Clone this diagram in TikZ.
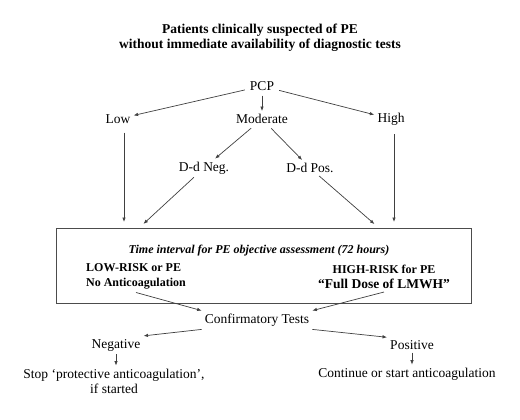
\documentclass[tikz,border=0pt]{standalone}
\usepackage{fontspec}
\setmainfont{Liberation Serif}
\usetikzlibrary{arrows.meta}

\tikzset{
    txt/.style={inner sep=3pt, font=\fontsize{13.5}{15}\selectfont},
    flow/.style={every edge/.append style={draw=black!75, line width=0.7pt, -{Latex[length=4.5pt,width=3.5pt]}}},
}

\begin{document}
\begin{tikzpicture}[x=1pt, y=-1pt]
    \useasboundingbox[fill=white] (0,0) rectangle (520,420);

    \node [align=center, font=\bfseries\fontsize{13.5}{15}\selectfont] (title) at (260,37.5)
        {Patients clinically suspected of PE\\without immediate availability of diagnostic tests};

    \node [txt] (pcp) at (262,86) {PCP};
    \node [txt] (low) at (118,119) {Low};
    \node [txt] (mod) at (262,119) {Moderate};
    \node [txt] (high) at (391,119) {High};
    \node [txt] (ddneg) at (204,168) {D-d Neg.};
    \node [txt] (ddpos) at (310,168) {D-d Pos.};

    % assessment window
    \node [draw=black!70, line width=0.8pt, minimum width=415pt, minimum height=75pt] (box) at (263.5,265.5) {};
    \node [font=\bfseries\itshape\fontsize{12}{14}\selectfont] (window) at (259,251)
        {Time interval for PE objective assessment (72 hours)};
    \node [align=left, inner sep=3pt, font=\bfseries\fontsize{12}{15}\selectfont] (lowrisk) at (136,276.5)
        {LOW-RISK or PE\\No Anticoagulation};
    \node [align=center, inner sep=3pt, font=\bfseries\fontsize{12}{15}\selectfont] (highrisk) at (384,277)
        {HIGH-RISK for PE\\{\fontsize{13.5}{15}\selectfont “Full Dose of LMWH”}};

    \coordinate (inlow) at (124,228);
    \coordinate (inneg) at (139,228);
    \coordinate (inpos) at (379,228);
    \coordinate (inhigh) at (394,228);

    \node [txt] (confirm) at (257,320) {Confirmatory Tests};
    \node [txt] (neg) at (116,345) {Negative};
    \node [txt] (pos) at (412,345) {Positive};
    \node [txt, align=center] (stop) at (114,381) {Stop ‘protective anticoagulation’,\\if started};
    \node [txt] (cont) at (407,374) {Continue or start anticoagulation};

    \path[flow, shorten <=2pt]
                (pcp) edge (low)
                (pcp) edge (mod)
                (pcp) edge (high)
                (mod) edge (ddneg)
                (mod) edge (ddpos);
    \path[flow, shorten >=6pt, shorten <=6pt]
                (low.south -| inlow) edge (inlow)
                (high.south -| inhigh) edge (inhigh);
    \path[flow, shorten >=6pt]
                (ddneg) edge (inneg)
                (ddpos) edge (inpos);
    \path[flow]
                (lowrisk.south) edge (confirm.north west)
                (highrisk.south) edge (confirm.north east)
                (confirm.south west) edge (neg.north east)
                (confirm.south east) edge (pos.north west)
                (neg.south) edge (neg.south |- stop.north)
                (pos.south) edge (pos.south |- cont.north);
\end{tikzpicture}
\end{document}
